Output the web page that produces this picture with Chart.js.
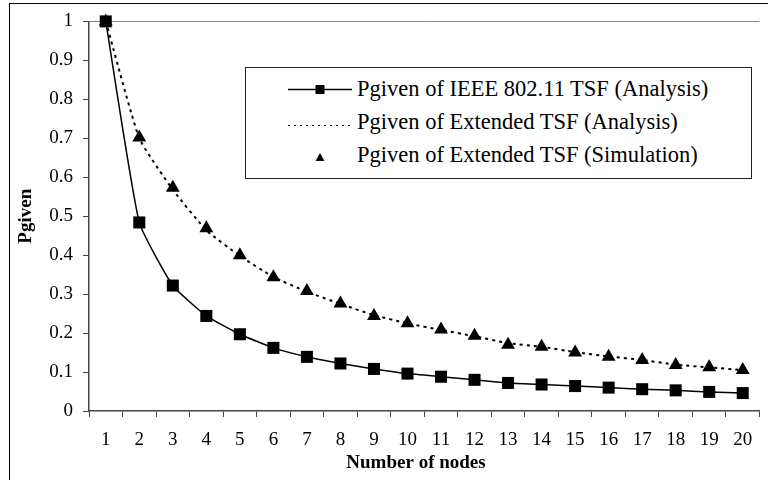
<!DOCTYPE html>
<html>
<head>
<meta charset="utf-8">
<script src="https://cdn.jsdelivr.net/npm/chart.js@4/dist/chart.umd.min.js"></script>
<style>
  html, body { margin: 0; padding: 0; background: #fff; }
  #wrap { position: relative; width: 768px; height: 480px; overflow: hidden; }
  #chart { position: absolute; left: 0; top: 0; }
  #legend {
    position: absolute; left: 245px; top: 67px; width: 505px; height: 110px;
    border: 1px solid #222; background: #fff;
    font-family: "Liberation Serif", "Times New Roman", serif; font-size: 22.5px; color: #000;
  }
  .row { position: absolute; left: 0; height: 33px; width: 100%; }
  .row svg { position: absolute; left: 42px; top: 0; }
  .row span { position: absolute; left: 111px; top: 3px; white-space: nowrap; }
</style>
</head>
<body>
<div id="wrap">
  <canvas id="chart" width="768" height="480"></canvas>
  <div id="legend"></div>
</div>
<script>
// number of nodes on the x axis
var nodes = ['1','2','3','4','5','6','7','8','9','10','11','12','13','14','15','16','17','18','19','20'];

// Pgiven values
var tsfAnalysis = [1, 0.484, 0.322, 0.244, 0.197, 0.162, 0.139, 0.122, 0.108, 0.096,
                   0.088, 0.080, 0.072, 0.068, 0.064, 0.060, 0.056, 0.053, 0.049, 0.046];
var extAnalysis = [1, 0.700, 0.568, 0.464, 0.398, 0.344, 0.306, 0.275, 0.246, 0.225,
                   0.208, 0.192, 0.174, 0.165, 0.151, 0.140, 0.131, 0.119, 0.112, 0.105];
var extSimulation = [1, 0.702, 0.573, 0.469, 0.400, 0.343, 0.308, 0.276, 0.244, 0.225,
                     0.209, 0.193, 0.170, 0.165, 0.150, 0.139, 0.131, 0.118, 0.112, 0.105];

var seriesNames = [
  'Pgiven of IEEE 802.11 TSF (Analysis)',
  'Pgiven of Extended TSF (Analysis)',
  'Pgiven of Extended TSF (Simulation)'
];

var serif = "'Liberation Serif', 'Times New Roman', serif";

// outer frame + x axis title
var framePlugin = {
  id: 'frame',
  beforeDraw: function(chart) {
    var ctx = chart.ctx;
    ctx.save();
    ctx.strokeStyle = '#000';
    ctx.lineWidth = 1;
    ctx.strokeRect(9.5, 3.5, 900, 700);
    ctx.restore();
  },
  afterDraw: function(chart) {
    var ctx = chart.ctx;
    ctx.save();
    ctx.fillStyle = '#000';
    ctx.font = 'bold 19px ' + serif;
    ctx.textAlign = 'center';
    ctx.textBaseline = 'alphabetic';
    ctx.fillText('Number of nodes', 416, 468);
    ctx.restore();
  }
};

new Chart(document.getElementById('chart'), {
  type: 'line',
  data: {
    labels: nodes,
    datasets: [
      {
        label: seriesNames[0],
        data: tsfAnalysis,
        borderColor: '#000',
        backgroundColor: '#000',
        borderWidth: 1.5,
        pointStyle: 'rect',
        pointRadius: 8.5,
        pointBorderWidth: 0,
        tension: 0.15,
        clip: false
      },
      {
        label: seriesNames[1],
        data: extAnalysis,
        borderColor: '#000',
        borderWidth: 2,
        borderDash: [3, 4],
        pointRadius: 0,
        tension: 0.15,
        clip: false
      },
      {
        label: seriesNames[2],
        data: extSimulation,
        showLine: false,
        borderColor: '#000',
        backgroundColor: '#000',
        pointStyle: 'triangle',
        pointRadius: 8,
        pointBorderWidth: 0,
        clip: false
      }
    ]
  },
  options: {
    responsive: false,
    animation: false,
    layout: { padding: { left: 0, top: 20, right: -6, bottom: 0 } },
    plugins: { legend: { display: false }, tooltip: { enabled: false } },
    scales: {
      x: {
        offset: true,
        grid: { offset: true, drawOnChartArea: false, tickLength: 6, color: '#444', tickColor: '#444' },
        border: { color: '#444', width: 1.5 },
        ticks: { color: '#000', font: { family: serif, size: 19 }, padding: 12, maxRotation: 0, autoSkip: false },
        afterFit: function(s) { s.height = 69; }
      },
      y: {
        min: 0,
        max: 1,
        grid: {
          tickLength: 6,
          color: function(c) { return c.tick && c.tick.value === 1 ? '#888' : 'rgba(0,0,0,0)'; },
          tickColor: '#444'
        },
        border: { color: '#444', width: 1.5 },
        ticks: {
          stepSize: 0.1,
          color: '#000',
          padding: 10,
          font: { family: serif, size: 19 },
          callback: function(v) { return String(Number(v.toFixed(1))); }
        },
        title: {
          display: true,
          text: 'Pgiven',
          color: '#000',
          font: { family: serif, size: 19, weight: 'bold' },
          padding: { top: 15, bottom: 0 }
        },
        afterFit: function(s) { s.width = 89; }
      }
    }
  },
  plugins: [framePlugin]
});

// legend box
var legend = document.getElementById('legend');
var samples = [
  '<svg width="64" height="33"><line x1="0" y1="16.5" x2="64" y2="16.5" stroke="#000" stroke-width="1.5"/><rect x="27.5" y="12" width="9" height="9" fill="#000"/></svg>',
  '<svg width="64" height="33"><line x1="0" y1="19.5" x2="64" y2="19.5" stroke="#000" stroke-width="1.2" stroke-dasharray="2,4"/></svg>',
  '<svg width="64" height="33"><polygon points="32,14 27.5,22 36.5,22" fill="#000"/></svg>'
];
var rowTops = [5, 38, 71];
for (var i = 0; i < seriesNames.length; i++) {
  var row = document.createElement('div');
  row.className = 'row';
  row.style.top = rowTops[i] + 'px';
  row.innerHTML = samples[i] + '<span>' + seriesNames[i] + '</span>';
  legend.appendChild(row);
}
</script>
</body>
</html>
